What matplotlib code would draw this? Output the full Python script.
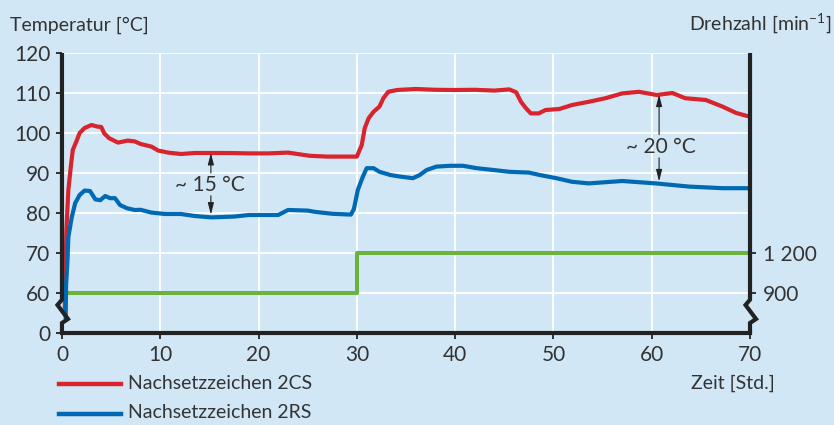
import numpy as np
import matplotlib
matplotlib.use("Agg")
import matplotlib.pyplot as plt
from matplotlib.lines import Line2D

# ---------------- data ----------------
red_t = [0.28, 0.45, 0.65, 0.9, 1.1, 1.45, 1.8, 2.3, 3.0, 3.6, 4.0, 4.3, 4.8, 5.7, 6.7, 7.4,
         8.0, 9.1, 9.8, 10.8, 12.1, 13.5, 15.2, 17.0, 19.0, 21.0, 23.0, 25.2, 27.0, 29.0,
         30.0, 30.5, 30.8, 31.2, 31.7, 32.3, 32.7, 33.2, 34.1, 36.0, 38.0, 40.0, 42.0,
         44.0, 45.5, 46.2, 46.7, 47.2, 47.7, 48.5, 49.2, 50.6, 51.9, 53.6, 55.3, 57.0,
         58.7, 60.5, 62.1, 63.4, 65.5, 67.2, 68.6, 69.7, 70.0]
red_v = [34.5, 75.75, 85.75, 91.6, 95.75, 97.8, 100.0, 101.25, 102.0, 101.6, 101.5, 99.9,
         98.7, 97.6, 98.1, 97.9, 97.25, 96.6, 95.6, 95.1, 94.75, 95.0, 95.0, 95.0, 94.9,
         94.9, 95.1, 94.3, 94.1, 94.1, 94.1, 97.0, 101.2, 103.7, 105.3, 106.6, 108.7,
         110.3, 110.75, 111.0, 110.8, 110.75, 110.8, 110.6, 110.9, 110.2, 107.8, 106.2,
         104.9, 104.9, 105.75, 106.0, 107.0, 107.8, 108.7, 109.9, 110.3, 109.5, 110.0,
         108.7, 108.25, 106.6, 105.0, 104.25, 104.2]

blue_t = [0.38, 0.42, 0.55, 0.65, 1.0, 1.35, 1.8, 2.3, 2.85, 3.4, 3.9, 4.4, 4.9, 5.4, 5.9,
          6.6, 7.4, 8.0, 9.1, 10.5, 12.1, 13.5, 15.2, 17.5, 19.0, 22.0, 23.0, 25.0, 25.7,
          27.5, 29.4, 29.7, 30.1, 30.6, 31.0, 31.7, 32.3, 33.4, 34.4, 35.7, 36.4, 37.1,
          38.1, 39.5, 40.8, 42.2, 43.9, 45.5, 47.5, 48.6, 50.3, 51.9, 53.6, 57.0, 60.4,
          63.8, 67.2, 69.7, 70.0]
blue_v = [24.0, 62.0, 67.5, 74.0, 79.0, 82.5, 84.5, 85.6, 85.5, 83.4, 83.2, 84.25, 83.7,
          83.7, 82.0, 81.2, 80.75, 80.8, 80.1, 79.75, 79.75, 79.25, 78.9, 79.1, 79.5, 79.5,
          80.75, 80.6, 80.3, 79.8, 79.6, 81.0, 85.75, 89.0, 91.2, 91.2, 90.3, 89.5, 89.1,
          88.7, 89.5, 90.75, 91.6, 91.8, 91.8, 91.2, 90.75, 90.3, 90.1, 89.5, 88.7, 87.8,
          87.4, 88.0, 87.4, 86.6, 86.2, 86.2, 86.0]

green_t = [0, 30, 70]
green_v = [60, 70, 70]          # temperature-axis position of the speed level
speed_labels = ["900", "1 200"]

x_ticks = [0, 10, 20, 30, 40, 50, 60, 70]
y_ticks = [0, 60, 70, 80, 90, 100, 110, 120]

labels = ["Nachsetzzeichen 2CS", "Nachsetzzeichen 2RS"]

# ---------------- style ----------------
BG = "#d1e7f6"
RED = "#d7242d"
BLUE = "#0069b4"
GREEN = "#6cb33e"
INK = "#222222"
TXT = "#333333"
FONT = ["Lato", "DejaVu Sans"]
plt.rcParams["font.family"] = FONT
plt.rcParams["mathtext.fontset"] = "custom"
plt.rcParams["mathtext.rm"] = "Lato"
plt.rcParams["mathtext.it"] = "Lato"

FS = 15

def fwd(v):
    v = np.asarray(v, dtype=float)
    return np.where(v < 60, 50 + v / 6.0, v)

def inv(u):
    u = np.asarray(u, dtype=float)
    return np.where(u < 60, (u - 50) * 6.0, u)

fig = plt.figure(figsize=(8.34, 4.25), dpi=100, facecolor=BG)
ax = fig.add_axes([0.0743, 0.2165, 0.8250, 0.6588])
ax.set_facecolor(BG)
ax.set_yscale("function", functions=(fwd, inv))
ax.set_xlim(0, 70)
ax.set_ylim(0, 120)

# grid
for xv in x_ticks[1:-1]:
    ax.axvline(xv, color="white", lw=1.3, zorder=1)
for yv in y_ticks[1:]:
    ax.axhline(yv, color="white", lw=1.3, zorder=1)

ax.plot(green_t, green_v, color=GREEN, lw=2.9, drawstyle="steps-post", zorder=3,
        solid_capstyle="butt")
ax.plot(red_t, red_v, color=RED, lw=3.0, zorder=4)
ax.plot(blue_t, blue_v, color=BLUE, lw=3.0, zorder=4)

# spines
for s in ["top", "left", "right"]:
    ax.spines[s].set_visible(False)
ax.spines["bottom"].set_linewidth(3.0)
ax.spines["bottom"].set_color(INK)
ax.spines["bottom"].set_zorder(6)

pxu = 70 / (0.825 * 834)  # hours per pixel
for x0 in (0, 70):
    zx = [x0, x0, x0 + 6 * pxu, x0 - 4.5 * pxu, x0, x0]
    zy = [0, 15, 21, 42, 50, 120]
    ax.add_line(Line2D(zx, zy, color=INK, lw=3.0, clip_on=False, zorder=6,
                       solid_joinstyle="miter", solid_capstyle="butt"))

ax.set_xticks(x_ticks)
ax.set_xticklabels([str(v) for v in x_ticks])
ax.set_yticks(y_ticks)
ax.set_yticklabels([str(v) for v in y_ticks])
ax.yaxis.set_minor_locator(matplotlib.ticker.NullLocator())
ax.tick_params(axis="both", direction="out", length=4.5, width=1.3, color=INK,
               labelsize=FS, labelcolor=TXT, pad=4)

ax2 = ax.twinx()
ax2.set_yscale("function", functions=(fwd, inv))
ax2.set_ylim(0, 120)
ax2.set_yticks([60, 70])
ax2.set_yticklabels(speed_labels)
ax2.yaxis.set_minor_locator(matplotlib.ticker.NullLocator())
for s in ax2.spines.values():
    s.set_visible(False)
ax2.tick_params(axis="y", direction="out", length=4.5, width=1.3, color=INK,
                labelsize=FS, labelcolor=TXT, pad=5)

# annotations
akw = dict(arrowstyle="-|>,head_length=0.7,head_width=0.18", color=INK, lw=0.8,
           shrinkA=0, shrinkB=0, mutation_scale=10)
ax.annotate("", xy=(15.15, 95.0), xytext=(15.15, 90.0), arrowprops=akw, zorder=5)
ax.annotate("", xy=(15.15, 79.6), xytext=(15.15, 84.3), arrowprops=akw, zorder=5)
ax.text(15.0, 86.9, "~ 15 °C", ha="center", va="center", fontsize=FS, color=TXT, zorder=5)
ax.annotate("", xy=(60.75, 109.6), xytext=(60.75, 99.6), arrowprops=akw, zorder=5)
ax.annotate("", xy=(60.75, 87.9), xytext=(60.75, 93.8), arrowprops=akw, zorder=5)
ax.text(60.9, 96.6, "~ 20 °C", ha="center", va="center", fontsize=FS, color=TXT, zorder=5)

# axis titles
fig.text(0.012, 0.941, "Temperatur [°C]", ha="left", va="center", fontsize=14, color=TXT)
fig.text(0.997, 0.946, "Drehzahl [min$^{\\mathrm{-1}}$]", ha="right", va="center",
         fontsize=14, color=TXT)
fig.text(0.929, 0.099, "Zeit [Std.]", ha="right", va="center", fontsize=14, color=TXT)

# legend
for lab, col, yy in zip(labels, [RED, BLUE], [0.0965, 0.027]):
    fig.add_artist(Line2D([59 / 834, 121 / 834], [yy, yy], color=col, lw=3.2,
                          transform=fig.transFigure))
    fig.text(128 / 834, yy + 0.002, lab, ha="left", va="center", fontsize=14, color=TXT)

fig.savefig("out.png", dpi=100, facecolor=BG)
